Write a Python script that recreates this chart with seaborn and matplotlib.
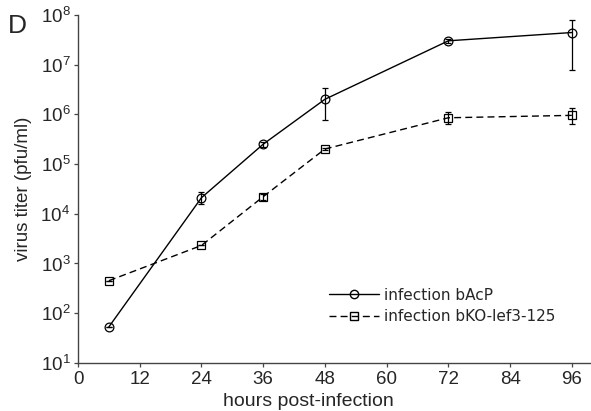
import numpy as np
import pandas as pd
import matplotlib
matplotlib.use("Agg")
import matplotlib.pyplot as plt
from matplotlib.lines import Line2D
import seaborn as sns

hours = [6, 24, 36, 48, 72, 96]
bacp = [53, 2.1e4, 2.5e5, 2.0e6, 3.0e7, 4.4e7]
bacp_low = [53, 1.6e4, 2.2e5, 7.5e5, 2.7e7, 7.6e6]
bacp_high = [53, 2.7e4, 2.8e5, 3.3e6, 3.3e7, 7.8e7]
bko = [450, 2.3e3, 2.2e4, 2.0e5, 8.5e5, 9.5e5]
bko_low = [450, 2.3e3, 1.9e4, 1.9e5, 6.5e5, 6.3e5]
bko_high = [450, 2.3e3, 2.5e4, 2.1e5, 1.1e6, 1.35e6]
series_names = ["infection bAcP", "infection bKO-lef3-125"]
xticks = [0, 12, 24, 36, 48, 60, 72, 84, 96]

sns.set_theme(style="ticks")
plt.rcParams["font.family"] = ["Liberation Sans", "DejaVu Sans"]

df = pd.DataFrame({
    "hours": hours * 2,
    "titer": bacp + bko,
    "series": [series_names[0]] * len(hours) + [series_names[1]] * len(hours),
})

fig = plt.figure(figsize=(5.91, 4.11), dpi=100)
ax = fig.add_axes([0.132, 0.117, 0.866, 0.847])

sns.lineplot(data=df, x="hours", y="titer", style="series",
             markers={series_names[0]: "o", series_names[1]: "s"},
             dashes={series_names[0]: "", series_names[1]: (5, 3)},
             color="black", linewidth=1.0, markersize=6.3,
             markerfacecolor="none", markeredgecolor="black",
             markeredgewidth=0.9, legend=False, ax=ax)

for vals, lo, hi in [(bacp, bacp_low, bacp_high), (bko, bko_low, bko_high)]:
    v = np.array(vals); l = np.array(lo); h = np.array(hi)
    ax.errorbar(hours, v, yerr=[v - l, h - v], fmt="none", ecolor="black",
                elinewidth=0.9, capsize=2.3, capthick=0.9)

ax.set_yscale("log")
ax.set_ylim(10, 1e8)
ax.set_xlim(0, 99.5)
ax.set_xticks(xticks)
ax.set_xticklabels([str(t) for t in xticks])
ax.set_yticks([10 ** k for k in range(1, 9)])
ax.minorticks_off()
ax.tick_params(labelsize=13.5, length=3, width=0.9, color="#444444", pad=2.5)
for s in ["top", "right"]:
    ax.spines[s].set_visible(False)
for s in ["left", "bottom"]:
    ax.spines[s].set_color("#444444")
    ax.spines[s].set_linewidth(1.0)

ax.set_xlabel("hours post-infection", fontsize=14, labelpad=3)
ax.xaxis.set_label_coords(0.45, -0.085)
ax.set_ylabel("virus titer (pfu/ml)", fontsize=13.5, labelpad=6)

handles = [
    Line2D([], [], color="black", lw=1.0, marker="o", mfc="none", mec="black", markersize=6),
    Line2D([], [], color="black", lw=1.0, ls=(0, (5, 3)), marker="s", mfc="none", mec="black", markersize=6),
]
fig.legend(handles, series_names, loc="center left", bbox_to_anchor=(0.556, 0.2555),
           bbox_transform=fig.transFigure, borderpad=0, borderaxespad=0,
           frameon=False, handlelength=3.3, handletextpad=0.35, labelspacing=0.45,
           prop={"family": "DejaVu Sans", "size": 11})

fig.text(0.014, 0.967, "D", fontsize=19, va="top", ha="left")

fig.savefig("out.png", dpi=100)
